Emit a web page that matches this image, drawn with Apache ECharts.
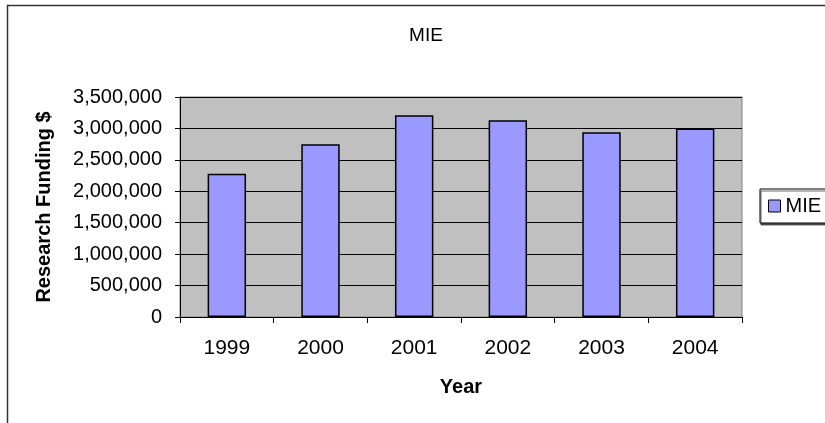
<!DOCTYPE html>
<html>
<head>
<meta charset="utf-8">
<script src="https://cdn.jsdelivr.net/npm/echarts@6/dist/echarts.min.js"></script>
<style>
  html, body { margin: 0; padding: 0; background: #fff; }
  #chart { width: 825px; height: 423px; }
</style>
</head>
<body>
<div id="chart"></div>
<script>
// data
const years = ['1999', '2000', '2001', '2002', '2003', '2004'];
const funding = [2280000, 2750000, 3210000, 3130000, 2940000, 3000000];
const seriesName = 'MIE';

const FONT = '"Liberation Sans", Arial, sans-serif';

const chart = echarts.init(document.getElementById('chart'), null, {renderer: 'canvas'});

chart.setOption({
    animation: false,
    backgroundColor: '#fff',
    textStyle: {fontFamily: FONT},
    graphic: [{
        type: 'rect',
        shape: {x: 7.5, y: 5.5, width: 900, height: 500},
        style: {fill: 'none', stroke: '#333', lineWidth: 1.5}
    }],
    title: {
        text: 'MIE',
        left: 421,
        top: 21,
        textAlign: 'center',
        textStyle: {fontFamily: FONT, fontSize: 19, fontWeight: 'normal', color: '#000'}
    },
    legend: {
        data: [seriesName],
        left: 760,
        top: 189,
        orient: 'vertical',
        padding: [7, 8, 7, 8],
        itemWidth: 12,
        itemHeight: 12,
        icon: 'rect',
        backgroundColor: '#fff',
        borderColor: '#000',
        borderWidth: 1,
        shadowColor: 'rgba(0,0,0,0.6)',
        shadowBlur: 0.1,
        shadowOffsetX: 1,
        shadowOffsetY: 2,
        itemStyle: {borderColor: '#000', borderWidth: 1},
        textStyle: {fontFamily: FONT, fontSize: 20, color: '#000'}
    },
    grid: {
        left: 180,
        right: 83,
        top: 97,
        bottom: 106,
        show: true,
        backgroundColor: '#c0c0c0',
        borderColor: '#808080',
        borderWidth: 1,
        containLabel: false
    },
    xAxis: {
        type: 'category',
        data: years,
        name: 'Year',
        nameLocation: 'middle',
        nameGap: 60,
        nameTextStyle: {fontFamily: FONT, fontSize: 20, fontWeight: 'bold', color: '#000'},
        axisLine: {lineStyle: {color: '#000', width: 1}},
        axisTick: {show: true, inside: false, length: 6, alignWithLabel: false, lineStyle: {color: '#000'}},
        axisLabel: {fontFamily: FONT, fontSize: 21, color: '#000', margin: 21},
        splitLine: {show: false}
    },
    yAxis: {
        type: 'value',
        min: 0,
        max: 3500000,
        interval: 500000,
        name: 'Research Funding $',
        nameLocation: 'middle',
        nameGap: 126,
        nameTextStyle: {fontFamily: FONT, fontSize: 20, fontWeight: 'bold', color: '#000'},
        axisLine: {show: true, lineStyle: {color: '#000', width: 1}},
        axisTick: {show: true, inside: false, length: 5, lineStyle: {color: '#000'}},
        axisLabel: {
            fontFamily: FONT, fontSize: 20, color: '#000', margin: 18,
            formatter: v => v.toLocaleString('en-US')
        },
        splitLine: {show: true, lineStyle: {color: '#000', width: 1}}
    },
    series: [{
        name: seriesName,
        type: 'bar',
        data: funding,
        barCategoryGap: '59%',
        itemStyle: {color: '#9999ff', borderColor: '#000', borderWidth: 1.5}
    }]
});
</script>
</body>
</html>
